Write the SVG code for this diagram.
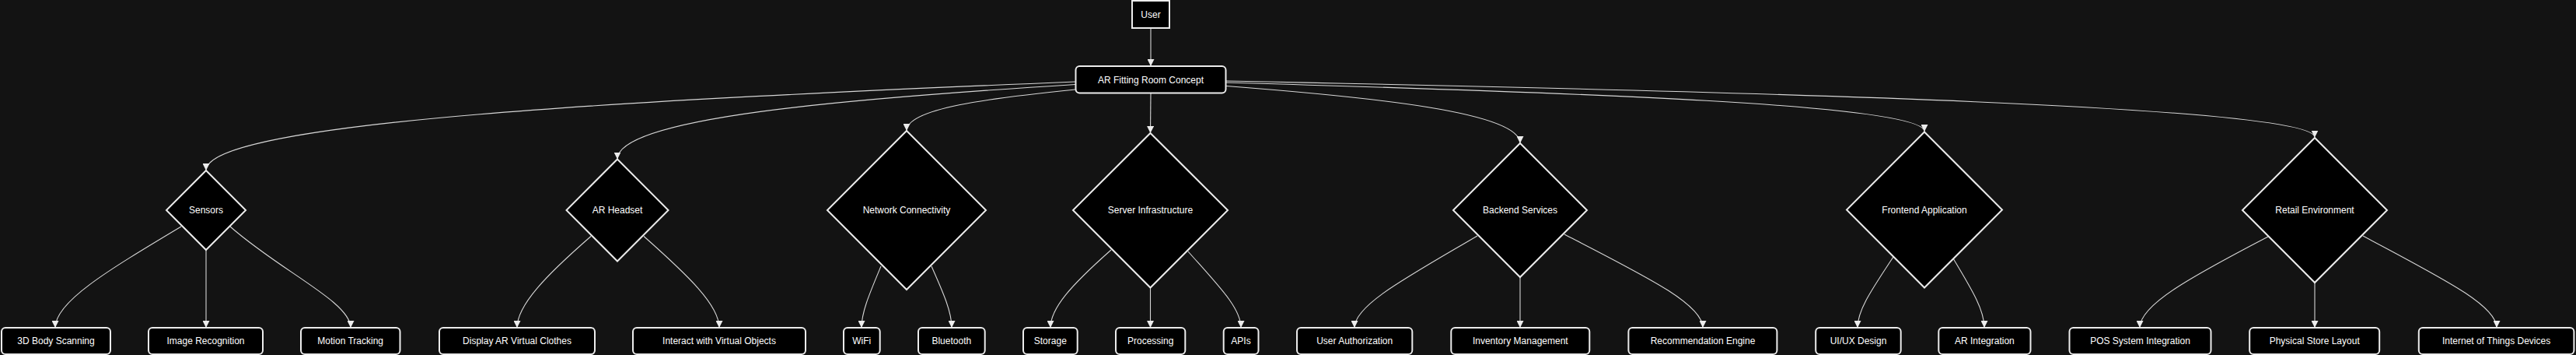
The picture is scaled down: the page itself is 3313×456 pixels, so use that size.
<svg xmlns="http://www.w3.org/2000/svg" width="3313" height="456" viewBox="0 0 3313 456">
<style>
.bg{fill:#131313}
.node rect,.node polygon{fill:#000;stroke:#ececec;stroke-width:2}
.node text{fill:#fff;font-family:"Liberation Sans",Arial,sans-serif;font-size:12px;text-anchor:middle}
.edge{fill:none;stroke:#d6d6d6;stroke-width:1.1}
</style>
<defs>
<marker id="arr" viewBox="0 0 10 10" refX="10" refY="5" markerUnits="userSpaceOnUse" markerWidth="9" markerHeight="9" orient="auto">
<path d="M0,0 L10,5 L0,10 z" fill="#ececec"/>
</marker>
</defs>
<rect class="bg" x="0" y="0" width="3313" height="456"/>
<g id="connectors">
<path class="edge" marker-end="url(#arr)" d="M1480,36 L1480,85"/>
<path class="edge" marker-end="url(#arr)" d="M1383,105 C824,128 265,156 265,219"/>
<path class="edge" marker-end="url(#arr)" d="M1383,108.5 C1088,127 794,151 794,204.5"/>
<path class="edge" marker-end="url(#arr)" d="M1383,115 C1274,126 1166,139 1166,168"/>
<path class="edge" marker-end="url(#arr)" d="M1480,119.5 L1479.5,171"/>
<path class="edge" marker-end="url(#arr)" d="M1577,110.5 C1766,125 1955,144 1955,184"/>
<path class="edge" marker-end="url(#arr)" d="M1577,106 C2026,119 2475,134 2475,169"/>
<path class="edge" marker-end="url(#arr)" d="M1577,104 C2277,118 2977,137 2977,176.5"/>
<path class="edge" marker-end="url(#arr)" d="M233,291 C136,349 71,388 71,421"/>
<path class="edge" marker-end="url(#arr)" d="M265,321 L265,421"/>
<path class="edge" marker-end="url(#arr)" d="M296,291 C362,349 451,388 451,421"/>
<path class="edge" marker-end="url(#arr)" d="M760,303.5 C702,354 665,392 665,421"/>
<path class="edge" marker-end="url(#arr)" d="M828,303.5 C885,354 925,392 925,421"/>
<path class="edge" marker-end="url(#arr)" d="M1133,342 C1118,378 1108,401 1108,421"/>
<path class="edge" marker-end="url(#arr)" d="M1198,342 C1214,378 1224,401 1224,421"/>
<path class="edge" marker-end="url(#arr)" d="M1429,321 C1377,367 1351,396 1351,421"/>
<path class="edge" marker-end="url(#arr)" d="M1479.5,370 L1479.5,421"/>
<path class="edge" marker-end="url(#arr)" d="M1528,323 C1568,368 1596,396 1596,421"/>
<path class="edge" marker-end="url(#arr)" d="M1900,303 C1808,357 1742,392 1742,421"/>
<path class="edge" marker-end="url(#arr)" d="M1955,356 L1955,421"/>
<path class="edge" marker-end="url(#arr)" d="M2012,301 C2119,356 2190,391 2190,421"/>
<path class="edge" marker-end="url(#arr)" d="M2435,330 C2408,371 2389,398 2389,421"/>
<path class="edge" marker-end="url(#arr)" d="M2512,332 C2536,372 2552,398 2552,421"/>
<path class="edge" marker-end="url(#arr)" d="M2917,304 C2815,357 2752,392 2752,421"/>
<path class="edge" marker-end="url(#arr)" d="M2977,363 L2977,421"/>
<path class="edge" marker-end="url(#arr)" d="M3039,303 C3140,357 3211,392 3211,421"/>
</g>
<g id="user" class="node"><rect x="1456" y="1" width="48" height="35"/><text x="1480" y="22.5">User</text></g>
<g id="ar_concept" class="node"><rect x="1383.5" y="85" width="193" height="34.5" rx="5"/><text x="1480" y="106.5">AR Fitting Room Concept</text></g>
<g id="sensors" class="node"><polygon points="265,219 316,270 265,321 214,270"/><text x="265" y="274">Sensors</text></g>
<g id="ar_headset" class="node"><polygon points="794,204.5 859.5,270 794,335.5 728.5,270"/><text x="794" y="274">AR Headset</text></g>
<g id="network" class="node"><polygon points="1166,168 1268,270 1166,372 1064,270"/><text x="1166" y="274">Network Connectivity</text></g>
<g id="server" class="node"><polygon points="1479.5,171 1579,270 1479.5,369.5 1380,270"/><text x="1479.5" y="274">Server Infrastructure</text></g>
<g id="backend" class="node"><polygon points="1955,184 2041,270 1955,356 1869,270"/><text x="1955" y="274">Backend Services</text></g>
<g id="frontend" class="node"><polygon points="2475,169.5 2575,269.5 2475,369.5 2375,269.5"/><text x="2475" y="273.5">Frontend Application</text></g>
<g id="retail" class="node"><polygon points="2977,177 3070,270 2977,363 2884,270"/><text x="2977" y="274">Retail Environment</text></g>
<g id="body_scan" class="node"><rect x="2" y="421" width="140" height="34" rx="5"/><text x="72" y="442">3D Body Scanning</text></g>
<g id="image_rec" class="node"><rect x="191" y="421" width="147" height="34" rx="5"/><text x="264.5" y="442">Image Recognition</text></g>
<g id="motion" class="node"><rect x="387" y="421" width="127.5" height="34" rx="5"/><text x="450.7" y="442">Motion Tracking</text></g>
<g id="display_ar" class="node"><rect x="565" y="421" width="200" height="34" rx="5"/><text x="665" y="442">Display AR Virtual Clothes</text></g>
<g id="interact" class="node"><rect x="814" y="421" width="222" height="34" rx="5"/><text x="925" y="442">Interact with Virtual Objects</text></g>
<g id="wifi" class="node"><rect x="1085" y="421" width="46.7" height="34" rx="5"/><text x="1108.3" y="442">WiFi</text></g>
<g id="bluetooth" class="node"><rect x="1181" y="421" width="85.7" height="34" rx="5"/><text x="1223.8" y="442">Bluetooth</text></g>
<g id="storage" class="node"><rect x="1316" y="421" width="69.7" height="34" rx="5"/><text x="1350.8" y="442">Storage</text></g>
<g id="processing" class="node"><rect x="1435" y="421" width="89.3" height="34" rx="5"/><text x="1479.7" y="442">Processing</text></g>
<g id="apis" class="node"><rect x="1573.7" y="421" width="44.8" height="34" rx="5"/><text x="1596" y="442">APIs</text></g>
<g id="user_auth" class="node"><rect x="1668" y="421" width="148.3" height="34" rx="5"/><text x="1742.2" y="442">User Authorization</text></g>
<g id="inventory" class="node"><rect x="1866.3" y="421" width="178" height="34" rx="5"/><text x="1955.3" y="442">Inventory Management</text></g>
<g id="recommend" class="node"><rect x="2094.4" y="421" width="191" height="34" rx="5"/><text x="2190" y="442">Recommendation Engine</text></g>
<g id="uiux" class="node"><rect x="2335.2" y="421" width="109.5" height="34" rx="5"/><text x="2390" y="442">UI/UX Design</text></g>
<g id="ar_integration" class="node"><rect x="2493.3" y="421" width="118.2" height="34" rx="5"/><text x="2552.4" y="442">AR Integration</text></g>
<g id="pos" class="node"><rect x="2661.5" y="421" width="182" height="34" rx="5"/><text x="2752.5" y="442">POS System Integration</text></g>
<g id="store_layout" class="node"><rect x="2893.2" y="421" width="167" height="34" rx="5"/><text x="2976.7" y="442">Physical Store Layout</text></g>
<g id="iot" class="node"><rect x="3110.8" y="421" width="199.6" height="34" rx="5"/><text x="3210.6" y="442">Internet of Things Devices</text></g>
</svg>
